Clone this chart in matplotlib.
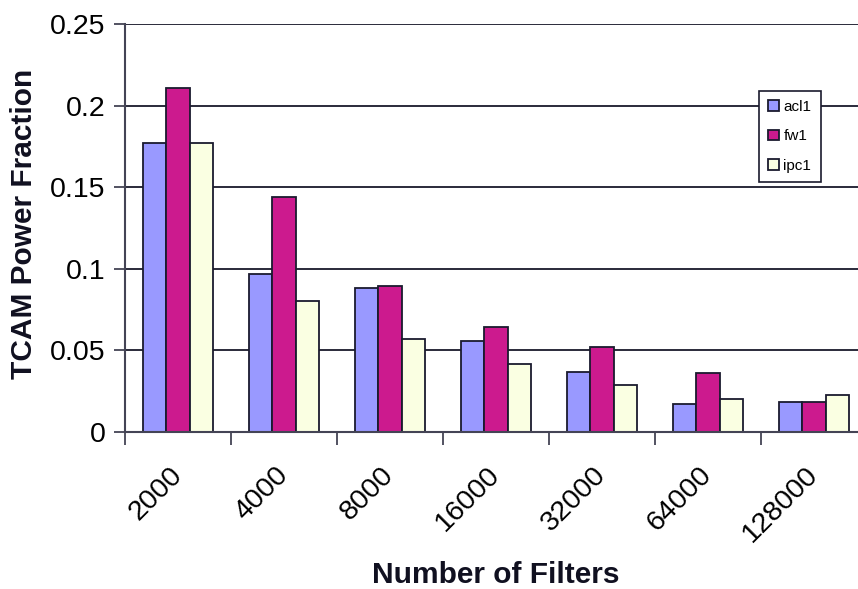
import matplotlib
matplotlib.use("Agg")
import matplotlib.pyplot as plt
import matplotlib.transforms as mtransforms
import numpy as np

categories = ["2000", "4000", "8000", "16000", "32000", "64000", "128000"]
acl1 = [0.177, 0.0966, 0.088, 0.0558, 0.0368, 0.0172, 0.0182]
fw1 = [0.2106, 0.144, 0.0895, 0.0643, 0.052, 0.036, 0.0182]
ipc1 = [0.1773, 0.080, 0.057, 0.0417, 0.0286, 0.0204, 0.0225]
series_names = ["acl1", "fw1", "ipc1"]
colors = ["#9999FF", "#CC1A8E", "#FAFFE2"]
yticks = [0, 0.05, 0.1, 0.15, 0.2, 0.25]
ytick_labels = ["0", "0.05", "0.1", "0.15", "0.2", "0.25"]

plt.rcParams["font.family"] = ["Liberation Sans", "DejaVu Sans"]

W, H = 858, 589
fig = plt.figure(figsize=(W / 100, H / 100), dpi=100)
ax = fig.add_axes([125 / W, 1 - 432 / H, 742 / W, 408 / H])

edge = "#1a1a2e"
x = np.arange(len(categories))
bw = 0.222
for i, (vals, name, c) in enumerate(zip([acl1, fw1, ipc1], series_names, colors)):
    ax.bar(x + (i - 1) * bw, vals, width=bw, color=c, edgecolor=edge,
           linewidth=1.3, label=name, zorder=3)

ax.set_xlim(-0.5, len(categories) - 0.5)
ax.set_ylim(0, 0.25)
ax.set_yticks(yticks)
ax.set_yticklabels(ytick_labels, fontsize=20.5)
for y in yticks[1:]:
    ax.axhline(y, color="#2a2a3a", linewidth=1.4, zorder=1)

# category ticks sit between groups, labels at the group centres
ax.set_xticks(np.arange(len(categories) + 1) - 0.5)
ax.set_xticklabels([])
ax.set_xticks(x, minor=True)
ax.set_xticklabels(categories, minor=True, fontsize=20.5, rotation=45,
                   ha="right", va="center", rotation_mode="anchor")
shift = mtransforms.ScaledTranslation(-10 / 100, 0, fig.dpi_scale_trans)
for lbl in ax.get_xticklabels(minor=True):
    lbl.set_transform(lbl.get_transform() + shift)
ax.tick_params(axis="x", which="minor", length=0, pad=28)
ax.tick_params(axis="x", which="major", length=9, width=1.3, color="#444455", direction="out")
ax.tick_params(axis="y", length=8, width=1.3, color="#444455", pad=6)

for s in ["top", "right"]:
    ax.spines[s].set_visible(False)
for s in ["left", "bottom"]:
    ax.spines[s].set_color("#444455")
    ax.spines[s].set_linewidth(1.5)
ax.spines["bottom"].set_zorder(4)

fig.text(24 / W, 1 - 224 / H, "TCAM Power Fraction", rotation=90, fontsize=21.5,
         fontweight="bold", ha="center", va="center", color="#101020")
fig.text(496 / W, 1 - 575 / H, "Number of Filters", fontsize=21.5,
         fontweight="bold", ha="center", va="center", color="#101020")

leg = fig.legend(loc="upper left", bbox_to_anchor=(759 / W, 1 - 91 / H),
                 fontsize=11, fancybox=False, framealpha=1, edgecolor="#1a1a2e",
                 handlelength=0.7, handleheight=0.7, handletextpad=0.3,
                 labelspacing=1.0, borderpad=0.6, borderaxespad=0)
leg.get_frame().set_linewidth(1.2)

fig.savefig("out.png", dpi=100, facecolor="white")
